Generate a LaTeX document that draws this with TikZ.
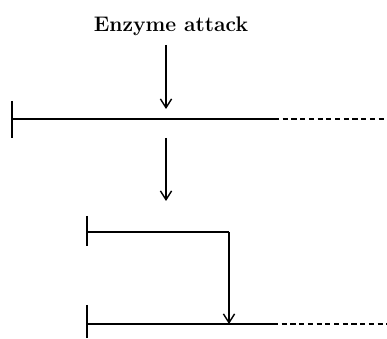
\documentclass[tikz,border=0pt]{standalone}
\usetikzlibrary{arrows.meta}

\tikzset{
  chain/.style={line width=1pt},
  tail/.style={line width=1pt,dash pattern=on 3.6pt off 2.6pt},
  endbar/.style={line width=1.1pt},
  attack/.style={->,line width=1pt}
}

\begin{document}
\begin{tikzpicture}[x=0.025cm,y=-0.025cm,>={Straight Barb[length=2.2mm,width=2.8mm]}]
  \useasboundingbox (0,0) rectangle (387,339);

  \node[font=\fontsize{15}{18}\selectfont\bfseries] (enz) at (171,26) {Enzyme attack};

  % substrate chain
  \coordinate (s0) at (12,119);
  \coordinate (s1) at (274,119);
  \coordinate (s2) at (387,119);
  \draw[endbar] (12,101) -- (12,138);
  \draw[chain] (s0) -- (s1);
  \draw[tail] (s1) -- (s2);
  \coordinate (a0) at (166,45);
  \coordinate (a1) at (166,109);
  \draw[attack] (a0) -- (a1);

  \coordinate (b0) at (166,138);
  \coordinate (b1) at (166,201);
  \draw[attack] (b0) -- (b1);

  % released fragment
  \coordinate (f0) at (87,232);
  \coordinate (f1) at (229,232);
  \draw[endbar] (87,216) -- (87,246);
  \draw[chain] (f0) -- (f1);

  % remaining chain
  \coordinate (r0) at (87,324);
  \coordinate (r1) at (229,324);
  \coordinate (r2) at (273,324);
  \coordinate (r3) at (387,324);
  \draw[endbar] (87,305) -- (87,338);
  \draw[chain] (r0) -- (r2);
  \draw[tail] (r2) -- (r3);
  \draw[attack] (f1) -- (r1);
\end{tikzpicture}
\end{document}
